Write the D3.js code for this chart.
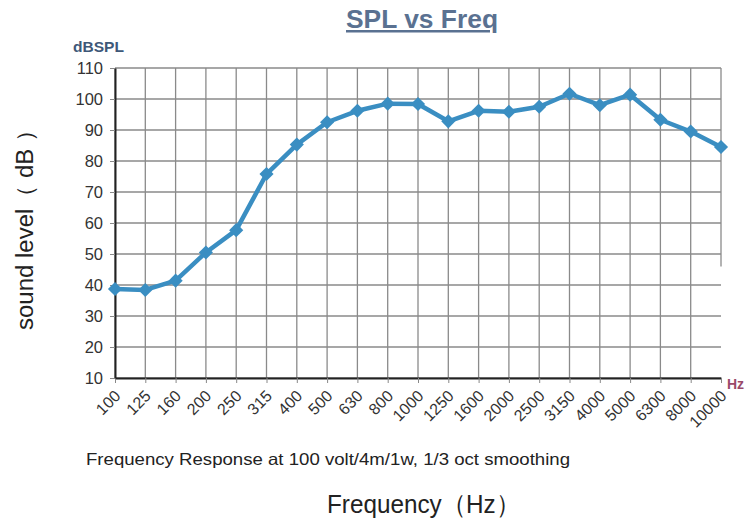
<!DOCTYPE html>
<html>
<head>
<meta charset="utf-8">
<script src="https://cdn.jsdelivr.net/npm/d3@7"></script>
<style>
  body { margin: 0; background: #fff; }
  svg { font-family: "Liberation Sans", Arial, sans-serif; }
</style>
</head>
<body>
<script>
// data
const freqs = ["100","125","160","200","250","315","400","500","630","800","1000",
               "1250","1600","2000","2500","3150","4000","5000","6300","8000","10000"];
const spl = [38.7, 38.4, 41.4, 50.5, 57.7, 75.8, 85.3, 92.5, 96.2, 98.5, 98.4,
             92.8, 96.2, 95.9, 97.5, 101.7, 98.0, 101.4, 93.3, 89.5, 84.5];
const yTicks = [10,20,30,40,50,60,70,80,90,100,110];

const width = 752;
const height = 523;
const plotLeft = 115, plotRight = 721, plotTop = 68, plotBottom = 378;

const svg = d3.select("body").append("svg")
    .attr("width", width)
    .attr("height", height);

// scales
const xScale = d3.scalePoint()
    .domain(freqs)
    .range([plotLeft, plotRight]);

const yScale = d3.scaleLinear()
    .domain([10, 110])
    .range([plotBottom, plotTop]);

// grid (last vertical line is broken off in the original)
svg.append("g")
    .selectAll("line")
    .data(freqs)
    .join("line")
    .attr("x1", d => xScale(d))
    .attr("x2", d => xScale(d))
    .attr("y1", plotTop)
    .attr("y2", (d, i) => i === freqs.length - 1 ? yScale(46) : plotBottom)
    .attr("stroke", "#8a8a8a")
    .attr("stroke-width", 1.3);

svg.append("g")
    .selectAll("line")
    .data(yTicks)
    .join("line")
    .attr("x1", plotLeft)
    .attr("x2", plotRight)
    .attr("y1", d => yScale(d))
    .attr("y2", d => yScale(d))
    .attr("stroke", "#8a8a8a")
    .attr("stroke-width", 1.3);

// axes
const bottomAxis = d3.axisBottom(xScale).tickSize(5).tickSizeOuter(0);
const leftAxis = d3.axisLeft(yScale).tickValues(yTicks).tickSize(5).tickSizeOuter(0);

const gx = svg.append("g")
    .attr("transform", "translate(0," + plotBottom + ")")
    .call(bottomAxis);
gx.select(".domain").attr("stroke", "#222").attr("stroke-width", 2);
gx.selectAll(".tick line").attr("stroke", "#888");
gx.selectAll("text")
    .attr("font-size", 16)
    .attr("fill", "#333")
    .attr("dy", 0)
    .attr("y", 0)
    .attr("transform", "translate(6,19) rotate(-45)")
    .style("text-anchor", "end");

const gy = svg.append("g")
    .attr("transform", "translate(" + plotLeft + ",0)")
    .call(leftAxis);
gy.select(".domain").attr("stroke", "#222").attr("stroke-width", 2);
gy.selectAll(".tick line").attr("stroke", "#888");
gy.selectAll("text")
    .attr("font-size", 16.5)
    .attr("fill", "#333")
    .attr("x", -12);

// line + markers
const line = d3.line()
    .x((d, i) => xScale(freqs[i]))
    .y(d => yScale(d));

svg.append("path")
    .datum(spl)
    .attr("d", line)
    .attr("fill", "none")
    .attr("stroke", "#3a8ec2")
    .attr("stroke-width", 4.5)
    .attr("stroke-linejoin", "round");

svg.append("g")
    .selectAll("path")
    .data(spl)
    .join("path")
    .attr("d", d3.symbol(d3.symbolSquare, 100))
    .attr("transform", (d, i) => "translate(" + xScale(freqs[i]) + "," + yScale(d) + ") rotate(45)")
    .attr("fill", "#3a8ec2");

// texts
svg.append("text")
    .attr("x", 346).attr("y", 28)
    .attr("font-size", 25)
    .attr("font-weight", "bold")
    .attr("fill", "#5a7191")
    .attr("text-decoration", "underline")
    .attr("textLength", 152)
    .attr("lengthAdjust", "spacingAndGlyphs")
    .text("SPL vs Freq");

svg.append("text")
    .attr("x", 73).attr("y", 52)
    .attr("font-size", 14)
    .attr("font-weight", "bold")
    .attr("fill", "#3e5878")
    .attr("textLength", 51)
    .attr("lengthAdjust", "spacingAndGlyphs")
    .text("dBSPL");

svg.append("text")
    .attr("x", 727).attr("y", 389)
    .attr("font-size", 14)
    .attr("font-weight", "bold")
    .attr("fill", "#9a4a6a")
    .text("Hz");

svg.append("text")
    .attr("x", 86).attr("y", 465)
    .attr("font-size", 16.5)
    .attr("fill", "#222")
    .attr("textLength", 484)
    .attr("lengthAdjust", "spacingAndGlyphs")
    .text("Frequency Response at 100 volt/4m/1w, 1/3 oct smoothing");

svg.append("text")
    .attr("x", 327).attr("y", 513)
    .attr("font-size", 26)
    .attr("fill", "#222")
    .attr("textLength", 193)
    .attr("lengthAdjust", "spacingAndGlyphs")
    .text("Frequency（Hz）");

svg.append("text")
    .attr("transform", "translate(33,224) rotate(-90)")
    .attr("text-anchor", "middle")
    .attr("font-size", 23)
    .attr("fill", "#222")
    .attr("textLength", 212)
    .attr("lengthAdjust", "spacingAndGlyphs")
    .text("sound level（ dB ）");
</script>
</body>
</html>
